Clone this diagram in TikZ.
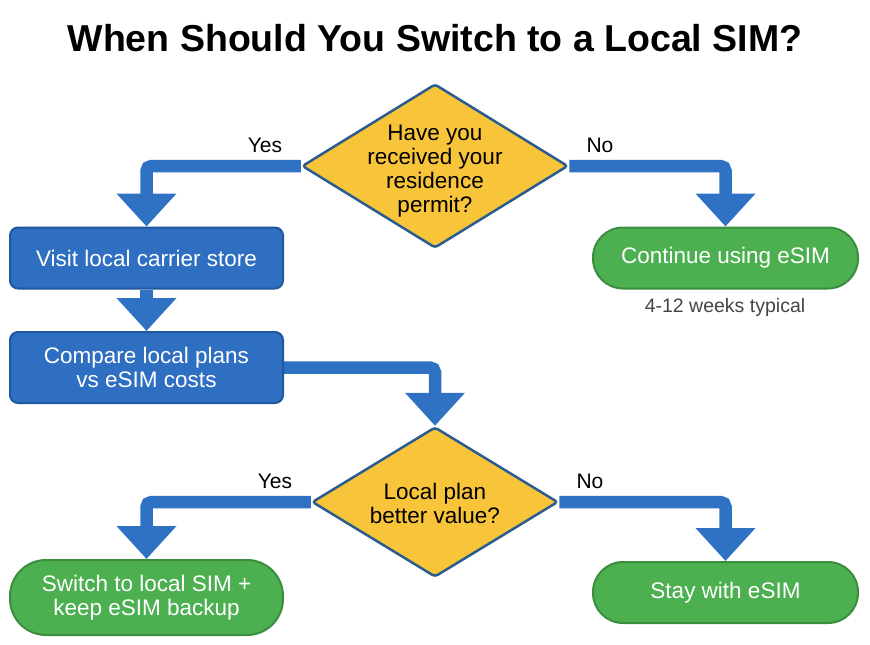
\documentclass[tikz,border=0pt]{standalone}
\usepackage{fontspec}
\setmainfont{Liberation Sans}
\usetikzlibrary{shapes.geometric,arrows.meta,backgrounds}
\definecolor{boxblue}{HTML}{2F6FC2}
\definecolor{boxblueline}{HTML}{21579E}
\definecolor{arrowblue}{HTML}{2F72C4}
\definecolor{decyellow}{HTML}{F8C53A}
\definecolor{decline}{HTML}{2A5D8F}
\definecolor{endgreen}{HTML}{4CAF50}
\definecolor{endgreenline}{HTML}{3A8E3E}
\definecolor{notegray}{HTML}{444444}
\tikzset{
  bodyfont/.style={font=\fontsize{22.5}{24}\selectfont},
  procbox/.style={draw=boxblueline, line width=2pt, fill=boxblue, rounded corners=8pt,
    minimum width=273pt, minimum height=61pt, inner sep=0pt, text=white, align=center, bodyfont},
  endbox/.style={draw=endgreenline, line width=2pt, fill=endgreen, rounded corners=30pt,
    minimum width=265pt, minimum height=61pt, inner sep=0pt, text=white, align=center, bodyfont},
  decbox/.style={diamond, draw=decline, line width=2.5pt, fill=decyellow, rounded corners=3pt,
    inner sep=0pt},
  dectext/.style={text=black, align=center, bodyfont},
  branchlabel/.style={font=\fontsize{21}{24}\selectfont, text=black},
  flow/.style={draw=arrowblue, line width=12.5pt, rounded corners=5pt,
    -{Triangle[length=33pt,width=58pt]}},
}
\begin{document}
\begin{tikzpicture}[x=1pt,y=-1pt]
\useasboundingbox (0,0) rectangle (870,645);
\node[font=\bfseries\fontsize{37.5}{40}\selectfont] (title) at (435,38) {When Should You Switch to a Local SIM?};

\node[decbox, minimum width=266pt, minimum height=164pt] (d1) at (435,166) {};
\node[dectext] (d1t) at (435,171) {Have you\\received your\\residence\\permit?};
\node[branchlabel] (yes1) at (265,145) {Yes};
\node[branchlabel] (no1) at (600,145) {No};

\node[procbox] (b1) at (146.5,258) {Visit local carrier store};
\node[endbox] (c1) at (725.5,258) {Continue using eSIM};
\node[font=\fontsize{19.5}{22}\selectfont, text=notegray] (note) at (725,307) {4-12 weeks typical};

\node[procbox, minimum height=71pt] (b2) at (146.5,367.5) {Compare local plans\\vs eSIM costs};

\node[decbox, minimum width=246pt, minimum height=150pt] (d2) at (435,502) {};
\node[dectext] (d2t) at (435,503) {Local plan\\better value?};
\node[branchlabel] (yes2) at (275,481) {Yes};
\node[branchlabel] (no2) at (590,481) {No};

\node[endbox, minimum width=273pt, minimum height=75pt, rounded corners=36pt] (s1) at (146.5,597.5) {Switch to local SIM +\\keep eSIM backup};
\node[endbox] (s2) at (725.5,592.5) {Stay with eSIM};

\begin{scope}[on background layer]
\draw[flow] (d1.west) -| (b1.north);
\draw[flow] (d1.east) -| (c1.north);
\draw[flow] (b1.south) -- (b2.north);
\draw[flow] (b2.east) -| (d2.north);
\draw[flow] (d2.west) -| (s1.north);
\draw[flow] (d2.east) -| (s2.north);
\end{scope}
\end{tikzpicture}
\end{document}
